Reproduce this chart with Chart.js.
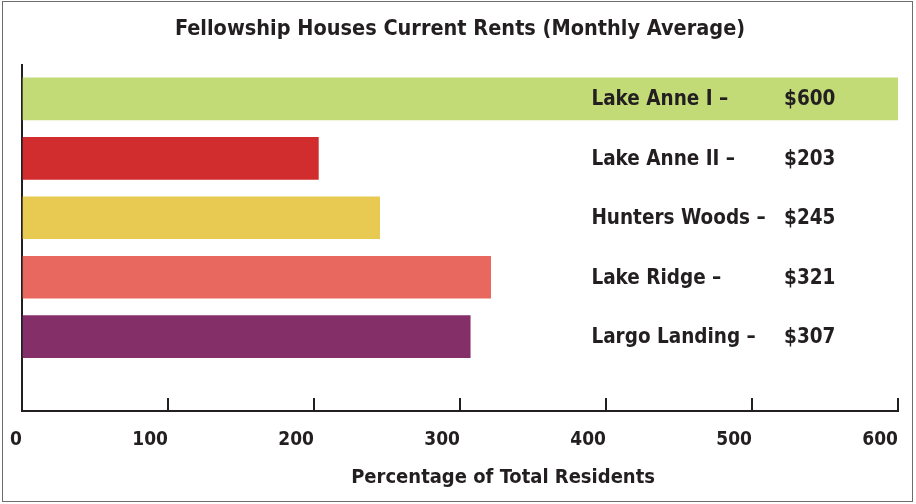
<!DOCTYPE html>
<html>
<head>
<meta charset="utf-8">
<script src="https://cdn.jsdelivr.net/npm/chart.js@4/dist/chart.umd.min.js"></script>
<style>
  html, body { margin: 0; padding: 0; background: #fff; }
  #wrap { position: relative; width: 916px; height: 504px; }
  #frame { position: absolute; left: 2px; top: 1px; width: 909px; height: 499px; border: 1.5px solid #6d6d6d; pointer-events: none; }
</style>
</head>
<body>
<div id="wrap">
  <canvas id="rentsChart" width="916" height="504"></canvas>
  <div id="frame"></div>
</div>
<script>
const properties = ['Lake Anne I', 'Lake Anne II', 'Hunters Woods', 'Lake Ridge', 'Largo Landing']
const rents = [600, 203, 245, 321, 307]
const xTicks = [0, 100, 200, 300, 400, 500, 600]
const barColors = ['#c2db77', '#d12c2e', '#e8ca52', '#e8675f', '#852f68']

const FONT = "'Liberation Sans Narrow', 'DejaVu Sans Condensed', 'Liberation Sans', sans-serif"
const INK = '#231f20'

const rightLabels = {
  id: 'rightLabels',
  afterDatasetsDraw (chart) {
    const ctx = chart.ctx
    const x = chart.scales.x
    const meta = chart.getDatasetMeta(0)
    ctx.save()
    ctx.fillStyle = INK
    ctx.font = 'bold 20.5px ' + FONT
    ctx.textBaseline = 'middle'
    ctx.textAlign = 'left'
    meta.data.forEach((bar, i) => {
      ctx.fillText(properties[i] + ' \u2013', x.getPixelForValue(390), bar.y + 1)
      ctx.fillText('$' + rents[i], x.getPixelForValue(522), bar.y + 1)
    })
    // axis title, sits a bit right of the axis centre in the original
    ctx.font = 'bold 20px ' + FONT
    ctx.textAlign = 'center'
    ctx.fillText('Percentage of Total Residents', x.getPixelForValue(329.5), 478)
    ctx.restore()
  }
}

new Chart(document.getElementById('rentsChart'), {
  type: 'bar',
  data: {
    datasets: [{
      data: rents.map((v, i) => ({ x: v, y: i })),
      backgroundColor: barColors,
      borderWidth: 0,
      barThickness: 42
    }]
  },
  options: {
    indexAxis: 'y',
    responsive: false,
    animation: false,
    layout: { padding: { left: 22, right: 18, top: 0, bottom: 0 } },
    plugins: {
      legend: { display: false },
      tooltip: { enabled: false },
      title: {
        display: true,
        text: 'Fellowship Houses Current Rents (Monthly Average)',
        color: INK,
        font: { family: FONT, size: 21.5, weight: 'bold', lineHeight: 1.2 },
        padding: { top: 17, bottom: 22 }
      }
    },
    scales: {
      x: {
        type: 'linear',
        min: 0,
        max: 600,
        afterBuildTicks: (s) => { s.ticks = xTicks.map(v => ({ value: v })) },
        afterFit: (s) => { s.height = 93; s.paddingLeft = 0; s.paddingRight = 0 },
        border: { display: true, color: INK, width: 2 },
        grid: { drawOnChartArea: false, drawTicks: true, tickLength: -13, color: INK, lineWidth: 2 },
        ticks: {
          color: INK,
          align: 'end',
          padding: 31,
          maxRotation: 0,
          font: { family: FONT, size: 19, weight: 'bold' }
        }
      },
      y: {
        type: 'linear',
        reverse: true,
        offset: false,
        min: -0.573,
        max: 5.25,
        afterFit: (s) => { s.width = 0 },
        border: { display: true, color: INK, width: 2 },
        grid: { drawOnChartArea: false, drawTicks: false, offset: false },
        ticks: { display: false }
      }
    }
  },
  plugins: [rightLabels]
})
</script>
</body>
</html>
